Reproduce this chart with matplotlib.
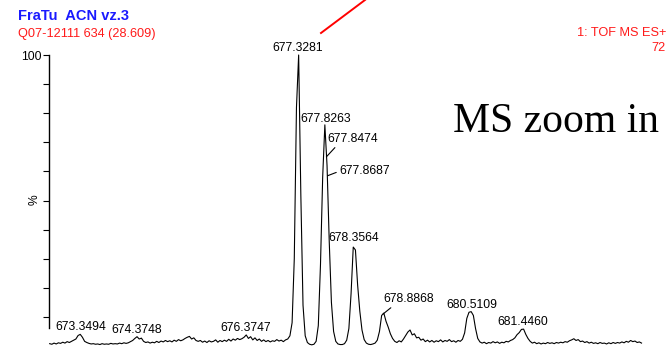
import numpy as np
import matplotlib
matplotlib.use("Agg")
import matplotlib.pyplot as plt
from matplotlib.lines import Line2D

plt.rcParams['font.family'] = ['Liberation Sans', 'DejaVu Sans']

# profile trace: intensities (%) on an even m/z grid
mz_start = 672.78
mz_step = 0.04
intensity = [
    0.8, 0.6, 1.0, 0.7, 1.1, 0.9, 1.3, 1.0, 1.5, 1.2,
    1.6, 2.0, 2.4, 3.6, 4.0, 3.0, 1.6, 1.2, 0.9, 0.7,
    0.8, 0.6, 0.7, 0.5, 0.8, 0.6, 0.7, 0.6, 0.9, 0.7,
    0.8, 0.7, 1.0, 0.8, 1.1, 0.9, 1.1, 1.5, 1.9, 2.6,
    3.2, 2.4, 2.7, 1.6, 1.2, 1.4, 1.0, 1.3, 1.1, 1.6,
    1.2, 1.7, 1.4, 1.9, 1.5, 1.8, 1.4, 2.0, 1.6, 2.2,
    1.8, 2.1, 2.6, 3.0, 3.3, 2.4, 2.8, 1.9, 1.6, 1.9,
    1.3, 1.7, 1.2, 1.8, 1.4, 1.6, 2.1, 1.3, 1.9, 1.5,
    2.0, 1.6, 2.3, 1.7, 2.4, 2.0, 2.6, 2.2, 2.5, 3.0,
    3.8, 2.6, 3.2, 2.1, 2.8, 1.9, 2.4, 1.6, 2.1, 1.5,
    1.9, 1.4, 1.8, 1.6, 2.2, 1.7, 2.0, 1.5, 2.1, 2.4,
    3.5, 8.0, 30.0, 82.0, 100.0, 52.0, 14.0, 3.5, 1.2, 0.6,
    0.4, 0.6, 1.6, 7.0, 28.0, 58.0, 76.0, 62.0, 36.0, 15.0,
    5.0, 1.6, 0.7, 0.5, 0.5, 0.8, 2.0, 6.0, 18.0, 34.0,
    33.0, 21.0, 12.0, 5.5, 2.2, 1.0, 0.6, 0.5, 0.7, 1.0,
    2.0, 5.0, 10.5, 11.3, 8.5, 6.5, 4.2, 2.6, 1.6, 1.2,
    1.8, 1.4, 2.4, 3.6, 4.8, 5.5, 3.8, 4.2, 2.8, 3.0,
    2.0, 2.4, 1.5, 2.0, 1.4, 1.9, 1.3, 1.8, 1.5, 2.1,
    1.4, 1.9, 1.6, 2.2, 1.5, 1.8, 1.3, 1.9, 1.6, 2.3,
    4.5, 9.5, 11.6, 11.8, 10.5, 6.0, 2.6, 1.4, 1.0, 1.3,
    0.8, 1.2, 1.0, 1.5, 1.1, 1.4, 0.9, 1.3, 1.1, 1.6,
    1.4, 1.9, 2.2, 2.8, 3.9, 4.6, 5.7, 5.8, 4.0, 2.6,
    1.6, 1.0, 1.3, 0.8, 1.1, 0.7, 1.0, 0.8, 1.2, 0.9,
    1.1, 0.8, 1.2, 1.0, 1.3, 1.1, 1.5, 1.3, 1.8, 2.1,
    2.5, 1.9, 2.2, 1.5, 1.7, 1.2, 1.5, 1.0, 1.3, 0.9,
    1.1, 0.8, 1.2, 0.9, 1.0, 0.7, 1.1, 0.8, 1.2, 0.9,
    1.2, 1.0, 1.4, 1.1, 1.6, 1.3, 1.9, 1.5, 1.7, 1.2,
    1.4, 1.0,
]
mz = mz_start + mz_step * np.arange(len(intensity))

# labelled peaks
peak_mz = [673.3494, 674.3748, 676.3747, 677.3281, 677.8263, 677.8474,
           677.8687, 678.3564, 678.8868, 680.5109, 681.4460]
peak_int = [4.0, 3.2, 3.8, 100.0, 75.7, 65.0, 58.5, 34.6, 11.0, 11.8, 5.8]

W, H = 666, 347
fig = plt.figure(figsize=(W / 100, H / 100), dpi=100)
# axes top sits at the 100 % level
ax = fig.add_axes([49 / W, 0, 1 - 49 / W, (H - 55) / H])

ax.plot(mz, intensity, color='black', lw=0.8, clip_on=False)
ax.set_xlim(672.7677, 684.068)
ax.set_ylim(-1 / 2.91, 100)

for s in ['top', 'right', 'bottom']:
    ax.spines[s].set_visible(False)
ax.spines['left'].set_bounds(6.2, 100)
ax.spines['left'].set_linewidth(1.0)
ax.set_xticks([])
yt = np.arange(10, 101, 10)
ax.set_yticks(yt)
ax.set_yticklabels(['100' if v == 100 else '' for v in yt], fontsize=8.7)
ax.tick_params(axis='y', length=4, width=0.8, pad=1)
ax.set_ylabel('%', fontsize=8.7)
ax.yaxis.set_label_coords(-8 / 617, (50.2 + 1 / 2.91) / (100 + 1 / 2.91))

# leader-line labels: (dx, dy, relpos) in pixels
label_style = {
    677.8474: (1, 12, (0.2, 0.0)),
    677.8687: (11.5, -1, (0.0, 0.45)),
    678.8868: (0, 9, (0.22, 0.0)),
}
for m, h in zip(peak_mz, peak_int):
    txt = f"{m:.4f}"
    if m in label_style:
        dx, dy, rp = label_style[m]
        ax.annotate(txt, xy=(m, h), xytext=(dx, dy), textcoords='offset pixels',
                    ha='left', va='bottom', fontsize=8.7,
                    arrowprops=dict(arrowstyle='-', lw=0.8, color='black',
                                    relpos=rp, shrinkA=0, shrinkB=0))
    else:
        ax.annotate(txt, xy=(m, h), xytext=(0, 1), textcoords='offset pixels',
                    ha='center', va='bottom', fontsize=8.7)

fig.text(18 / W, 1 - 16 / H, 'FraTu  ACN vz.3', color='#1a1aff', fontsize=10.5,
         fontweight='bold', ha='left', va='center')
fig.text(18 / W, 1 - 34 / H, 'Q07-12111 634 (28.609)', color='#ff1a1a', fontsize=9.2,
         ha='left', va='center')
fig.text(577 / W, 1 - 33 / H, '1: TOF MS ES+', color='#ff1a1a', fontsize=9.2,
         ha='left', va='center')
fig.text(651 / W, 1 - 48 / H, '721', color='#ff1a1a', fontsize=9.2,
         ha='left', va='center')
fig.text(453 / W, 1 - 131.7 / H, 'MS zoom in', fontsize=30,
         family='Liberation Serif', ha='left', va='baseline')

fig.add_artist(Line2D([321 / W, 365 / W], [1 - 33 / H, 1], color='red', lw=1.4,
                      transform=fig.transFigure))

fig.savefig('out.png', dpi=100)
